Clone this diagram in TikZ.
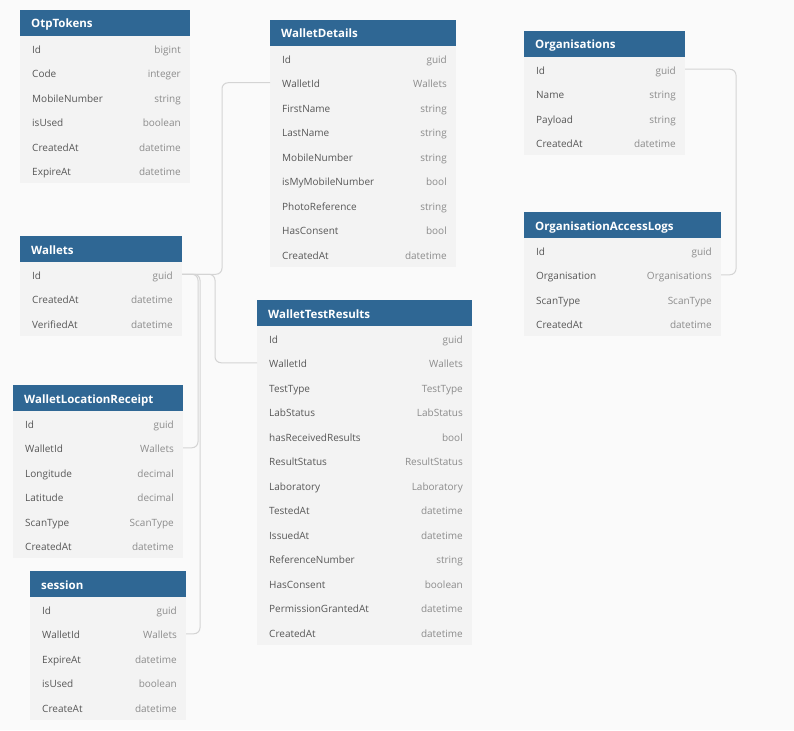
\documentclass[tikz,border=0pt]{standalone}
\usepackage{fontspec}
\setmainfont{Open Sans}
\usepackage{xcolor}
\usetikzlibrary{calc,positioning}
\definecolor{Canvas}{HTML}{FAFAFA}
\definecolor{HeadBlue}{HTML}{2F6794}
\definecolor{RowFill}{HTML}{F3F3F3}
\definecolor{FieldInk}{HTML}{575757}
\definecolor{TypeInk}{HTML}{8C8C8C}
\definecolor{Wire}{HTML}{D4D4D4}
\tikzset{
  tblhead/.style={fill=HeadBlue,minimum height=26pt,inner sep=0pt,outer sep=0pt},
  headtext/.style={font=\fontsize{11.5}{13}\selectfont\bfseries,text=white,inner sep=0pt,text height=8.5pt,text depth=2.5pt},
  tblrow/.style={fill=RowFill,minimum height=24.5pt,inner sep=0pt,outer sep=0pt},
  fldtext/.style={font=\fontsize{10}{12}\selectfont,text=FieldInk,inner sep=0pt,text height=7pt,text depth=2pt},
  typtext/.style={font=\fontsize{10}{12}\selectfont,text=TypeInk,inner sep=0pt,text height=7pt,text depth=2pt},
  rel/.style={draw=Wire,line width=1pt,rounded corners=6pt}
}
% #1 name, #2 top left, #3 width, #4 title, #5 field/type list
\newcommand{\dbtable}[5]{%
  \node[tblhead,minimum width=#3,anchor=north west] (#1) at #2 {};
  \node[headtext,anchor=west] at ([xshift=11pt,yshift=-2pt]#1.west) {#4};
  \foreach \fld/\typ [count=\i] in {#5} {
    \node[tblrow,minimum width=#3,anchor=north west] (#1-\i) at ($(#1.south west)+(0,{(\i-1)*24.5})$) {};
    \node[fldtext,anchor=west] at ([xshift=12pt,yshift=-2.5pt]#1-\i.west) {\fld};
    \node[typtext,anchor=east] at ([xshift=-9pt,yshift=-2.5pt]#1-\i.east) {\typ};
  }%
}

\begin{document}
\begin{tikzpicture}[x=1pt,y=-1pt]
  \fill[Canvas] (0,0) rectangle (794,730);
  \useasboundingbox (0,0) rectangle (794,730);

  \dbtable{otptokens}{(20,10)}{170pt}{OtpTokens}{Id/bigint,Code/integer,MobileNumber/string,isUsed/boolean,CreatedAt/datetime,ExpireAt/datetime}
  \dbtable{walletdetails}{(270,20)}{186pt}{WalletDetails}{Id/guid,WalletId/Wallets,FirstName/string,LastName/string,MobileNumber/string,isMyMobileNumber/bool,PhotoReference/string,HasConsent/bool,CreatedAt/datetime}
  \dbtable{organisations}{(524,31)}{161pt}{Organisations}{Id/guid,Name/string,Payload/string,CreatedAt/datetime}
  \dbtable{wallets}{(20,236)}{162pt}{Wallets}{Id/guid,CreatedAt/datetime,VerifiedAt/datetime}
  \dbtable{orgaccesslogs}{(524,212)}{197pt}{OrganisationAccessLogs}{Id/guid,Organisation/Organisations,ScanType/ScanType,CreatedAt/datetime}
  \dbtable{testresults}{(257,300)}{215pt}{WalletTestResults}{Id/guid,WalletId/Wallets,TestType/TestType,LabStatus/LabStatus,hasReceivedResults/bool,ResultStatus/ResultStatus,Laboratory/Laboratory,TestedAt/datetime,IssuedAt/datetime,ReferenceNumber/string,HasConsent/boolean,PermissionGrantedAt/datetime,CreatedAt/datetime}
  \dbtable{locationreceipt}{(13,385)}{170pt}{WalletLocationReceipt}{Id/guid,WalletId/Wallets,Longitude/decimal,Latitude/decimal,ScanType/ScanType,CreatedAt/datetime}
  \dbtable{session}{(30,571)}{156pt}{session}{Id/guid,WalletId/Wallets,ExpireAt/datetime,isUsed/boolean,CreateAt/datetime}

  % references
  \draw[rel] (wallets-1.east) -- ++(40,0) |- (walletdetails-2.west);
  \draw[rel] (wallets-1.east) -- ++(33,0) |- (testresults-2.west);
  \draw[rel] (wallets-1.east) -- ++(16,0) |- (locationreceipt-2.east);
  \draw[rel] (wallets-1.east) -- ++(18,0) |- (session-2.east);
  \draw[rel] (organisations-1.east) -- ++(51,0) |- (orgaccesslogs-2.east);
\end{tikzpicture}
\end{document}
